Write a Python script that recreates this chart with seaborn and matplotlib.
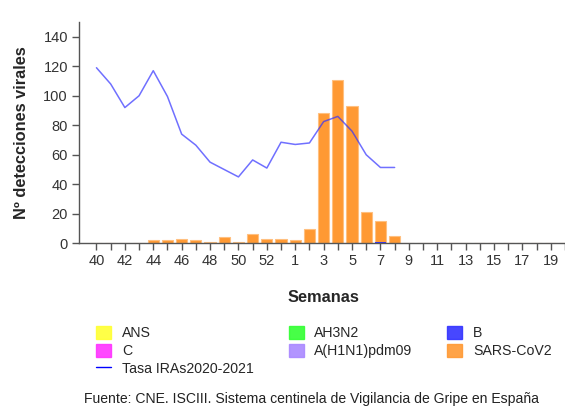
import numpy as np
import pandas as pd
import matplotlib
matplotlib.use("Agg")
import matplotlib.pyplot as plt
import seaborn as sns
from matplotlib.patches import Patch
from matplotlib.lines import Line2D

weeks = [str(w) for w in range(40, 54)] + [str(w) for w in range(1, 21)]
sars = [0, 0, 0, 0, 2, 2, 3, 2, 1, 4, 1, 6, 3, 3, 2, 10, 88, 111, 93, 21, 14, 5] + [0] * 12
b_vals = [0] * 20 + [1, 0] + [0] * 12
tasa = [119, 108, 92, 100, 117, 99.5, 74, 66.5, 55, 50, 45, 56.5, 51, 68.5, 67, 68,
        82.5, 86, 76, 60, 51.4, 51.4] + [np.nan] * 12

legend_labels = ["ANS", "C", "Tasa IRAs2020-2021", "AH3N2", "A(H1N1)pdm09", "B", "SARS-CoV2"]
colors = {"ANS": "#ffff33", "C": "#ff33ff", "AH3N2": "#33ff33",
          "A(H1N1)pdm09": "#aa88ff", "B": "#3333ff", "SARS-CoV2": "#ff9933"}

sns.set_style("white")
plt.rcParams["font.family"] = ["Liberation Sans", "DejaVu Sans"]

df = pd.DataFrame({"week": weeks, "sars": np.array(sars) + np.array(b_vals),
                   "b": b_vals, "tasa": tasa, "pos": range(len(weeks))})

fig = plt.figure(figsize=(5.65, 4.08), dpi=100)
ax = fig.add_axes([79 / 565, 1 - 243.3 / 408, 1 - 79 / 565, (243.3 - 22) / 408])

sns.barplot(data=df, x="week", y="sars", order=weeks, color=colors["SARS-CoV2"],
            saturation=1, width=0.79, edgecolor="#ffc080", linewidth=0.8, ax=ax)
sns.barplot(data=df, x="week", y="b", order=weeks, color=colors["B"],
            saturation=1, width=0.79, linewidth=0, ax=ax)
sns.lineplot(data=df, x="pos", y="tasa", color="#3333ff", alpha=0.7, lw=1.1, ax=ax)

ax.set_xlim(-1.23, 32.7)
ax.set_ylim(0, 150)
ax.set_yticks(range(0, 141, 20))
ax.set_xticks(range(len(weeks)))
ax.set_xticklabels([w if i % 2 == 0 else "" for i, w in enumerate(weeks)])
for s in ["top", "right"]:
    ax.spines[s].set_visible(False)
for s in ["left", "bottom"]:
    ax.spines[s].set_color("#555555")
    ax.spines[s].set_linewidth(1)
ax.tick_params(axis="both", length=5, width=1, color="#555555", labelsize=10.5,
               labelcolor="#333333", pad=3, bottom=True, left=True)
ax.set_xlabel("")
ax.set_ylabel("Nº detecciones virales", fontsize=11.8, fontweight="bold")
ax.yaxis.set_label_coords(-0.103, 0.5)
fig.text(323 / 565, 1 - 298 / 408, "Semanas", ha="center", va="center",
         fontsize=11.8, fontweight="bold")

def patch(c):
    return Patch(facecolor=c, edgecolor=c, alpha=0.9)

handles = [patch(colors["ANS"]), patch(colors["C"]),
           Line2D([], [], color="#0000ff", lw=1),
           patch(colors["AH3N2"]), patch(colors["A(H1N1)pdm09"]),
           patch(colors["B"]), patch(colors["SARS-CoV2"])]
fig.legend(handles, legend_labels, ncol=3, loc="upper left",
           bbox_to_anchor=(96 / 565, 1 - 326 / 408), frameon=False, fontsize=10.2,
           handlelength=1.06, handleheight=1.05, handletextpad=0.77, columnspacing=2.45,
           labelspacing=0.23, borderpad=0, borderaxespad=0)
fig.text(311.5 / 565, 1 - 399 / 408,
         "Fuente: CNE. ISCIII. Sistema centinela de Vigilancia de Gripe en España",
         ha="center", va="center", fontsize=10.1, color="#222222")

fig.savefig("out.png", dpi=100)
